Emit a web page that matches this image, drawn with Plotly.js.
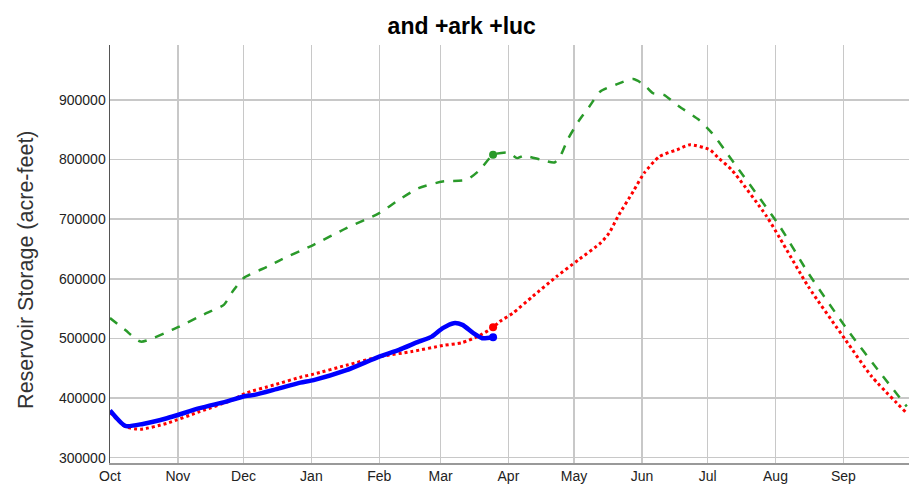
<!DOCTYPE html>
<html>
<head>
<meta charset="utf-8">
<script src="https://cdn.plot.ly/plotly-3.0.1.min.js"></script>
<style>html,body{margin:0;padding:0;background:#fff;}#chart{width:909px;height:497px;}</style>
</head>
<body>
<div id="chart"></div>
<script>
// ---- data ----
const chartTitle = "and +ark +luc";
const yAxisTitle = "Reservoir Storage (acre-feet)";
const markerDate = "2021-03-25";

const greenDates = ["2020-10-01","2020-10-08","2020-10-15","2020-11-01","2020-11-14","2020-11-22","2020-11-26","2020-12-01","2020-12-12","2020-12-18","2021-01-02","2021-01-17","2021-02-01","2021-02-10","2021-02-19","2021-03-02","2021-03-13","2021-03-19","2021-03-25","2021-04-01","2021-04-05","2021-04-08","2021-04-16","2021-04-22","2021-04-25","2021-04-28","2021-05-03","2021-05-08","2021-05-13","2021-05-20","2021-05-28","2021-06-02","2021-06-06","2021-06-11","2021-06-18","2021-06-27","2021-07-03","2021-07-09","2021-07-12","2021-08-03","2021-08-16","2021-09-04","2021-09-18","2021-09-30"];
const greenValues = [534000,514000,494600,518800,542300,556200,578500,601000,620500,631700,656900,684900,710000,732400,752000,763100,766000,782700,807900,811700,802300,806200,799500,795000,807900,833000,863800,888900,914100,925300,934900,925300,911400,908500,888900,866600,844300,815000,799500,687600,609400,508700,441600,385600];

const redDates = ["2020-10-01","2020-10-08","2020-10-15","2020-10-27","2020-11-11","2020-11-26","2020-12-02","2020-12-15","2020-12-27","2021-01-02","2021-01-17","2021-02-01","2021-02-16","2021-03-02","2021-03-11","2021-03-19","2021-03-25","2021-03-28","2021-04-03","2021-04-12","2021-04-23","2021-05-03","2021-05-13","2021-05-17","2021-05-21","2021-05-28","2021-06-02","2021-06-09","2021-06-17","2021-06-23","2021-07-02","2021-07-06","2021-07-12","2021-07-28","2021-08-03","2021-08-16","2021-09-02","2021-09-14","2021-09-30"];
const redValues = [376000,352000,347600,357600,377200,396800,408100,422000,434900,440000,455000,469000,478000,488000,493000,505000,518500,528200,542300,570100,603700,631700,659700,676500,704400,746300,777200,805000,816300,824700,816300,802300,782700,704400,668100,586900,497500,435900,374500];

const blueDates = ["2020-10-01","2020-10-08","2020-10-16","2020-10-27","2020-11-11","2020-11-23","2020-12-02","2020-12-06","2020-12-16","2020-12-27","2021-01-02","2021-01-17","2021-02-01","2021-02-10","2021-02-19","2021-02-25","2021-03-02","2021-03-07","2021-03-11","2021-03-16","2021-03-20","2021-03-25"];
const blueValues = [379000,353200,356500,366100,382900,394000,403500,405200,414800,425800,430000,446600,469500,480700,494600,503000,517100,525500,522700,508700,500300,502000];

const monthTicks = ["2020-10-01","2020-11-01","2020-12-01","2021-01-01","2021-02-01","2021-03-01","2021-04-01","2021-05-01","2021-06-01","2021-07-01","2021-08-01","2021-09-01"];
const monthLabels = ["Oct","Nov","Dec","Jan","Feb","Mar","Apr","May","Jun","Jul","Aug","Sep"];
const yTicks = [300000,400000,500000,600000,700000,800000,900000];

// ---- chart ----
function valueAt(dates, values, d){ const i = dates.indexOf(d); return values[i]; }

const sans = "'Liberation Sans', Arial, sans-serif";
const green = "#2a9a2a";

const traces = [
  {x: greenDates, y: greenValues, type: "scatter", mode: "lines", line: {color: green, width: 2.5, dash: "dash", shape: "spline", smoothing: 0.6}, hoverinfo: "skip"},
  {x: redDates, y: redValues, type: "scatter", mode: "lines", line: {color: "#ff0000", width: 3, dash: "dot", shape: "spline", smoothing: 0.6}, hoverinfo: "skip"},
  {x: blueDates, y: blueValues, type: "scatter", mode: "lines", line: {color: "#0000ff", width: 4.5, shape: "spline", smoothing: 0.6}, hoverinfo: "skip"},
  {x: [markerDate], y: [valueAt(greenDates, greenValues, markerDate)], type: "scatter", mode: "markers", marker: {color: green, size: 8}},
  {x: [markerDate], y: [valueAt(redDates, redValues, markerDate)], type: "scatter", mode: "markers", marker: {color: "#ff0000", size: 8}},
  {x: [markerDate], y: [valueAt(blueDates, blueValues, markerDate)], type: "scatter", mode: "markers", marker: {color: "#0000ff", size: 8}}
];

const layout = {
  width: 909, height: 497,
  margin: {l: 110, r: 0, t: 45, b: 34},
  paper_bgcolor: "#ffffff", plot_bgcolor: "#ffffff",
  showlegend: false,
  title: {text: "<b>" + chartTitle + "</b>", font: {family: sans, size: 23, color: "#000"}, x: 0.508, xanchor: "center", y: 0.948, yanchor: "middle"},
  xaxis: {
    type: "date", range: ["2020-10-01", "2021-10-01"],
    tickvals: monthTicks, ticktext: monthLabels,
    showgrid: true, gridcolor: "#c8c8c8", gridwidth: 1.5,
    showline: true, linecolor: "#999", linewidth: 1.5,
    ticks: "", zeroline: false,
    tickfont: {family: sans, size: 14, color: "#222"}
  },
  yaxis: {
    range: [291000, 992000],
    tickvals: yTicks, ticktext: yTicks.map(String),
    showgrid: true, gridcolor: "#c8c8c8", gridwidth: 1.5,
    showline: true, linecolor: "#555", linewidth: 1.5,
    ticks: "", zeroline: false,
    tickfont: {family: sans, size: 14, color: "#222"}
  },
  annotations: [{
    text: yAxisTitle, textangle: -90, showarrow: false,
    xref: "paper", yref: "paper", x: 0, y: 0.462, xanchor: "center", yanchor: "middle", xshift: -84,
    font: {family: sans, size: 21.5, color: "#333"}
  }]
};

Plotly.newPlot("chart", traces, layout, {displayModeBar: false, staticPlot: true});
</script>
</body>
</html>
